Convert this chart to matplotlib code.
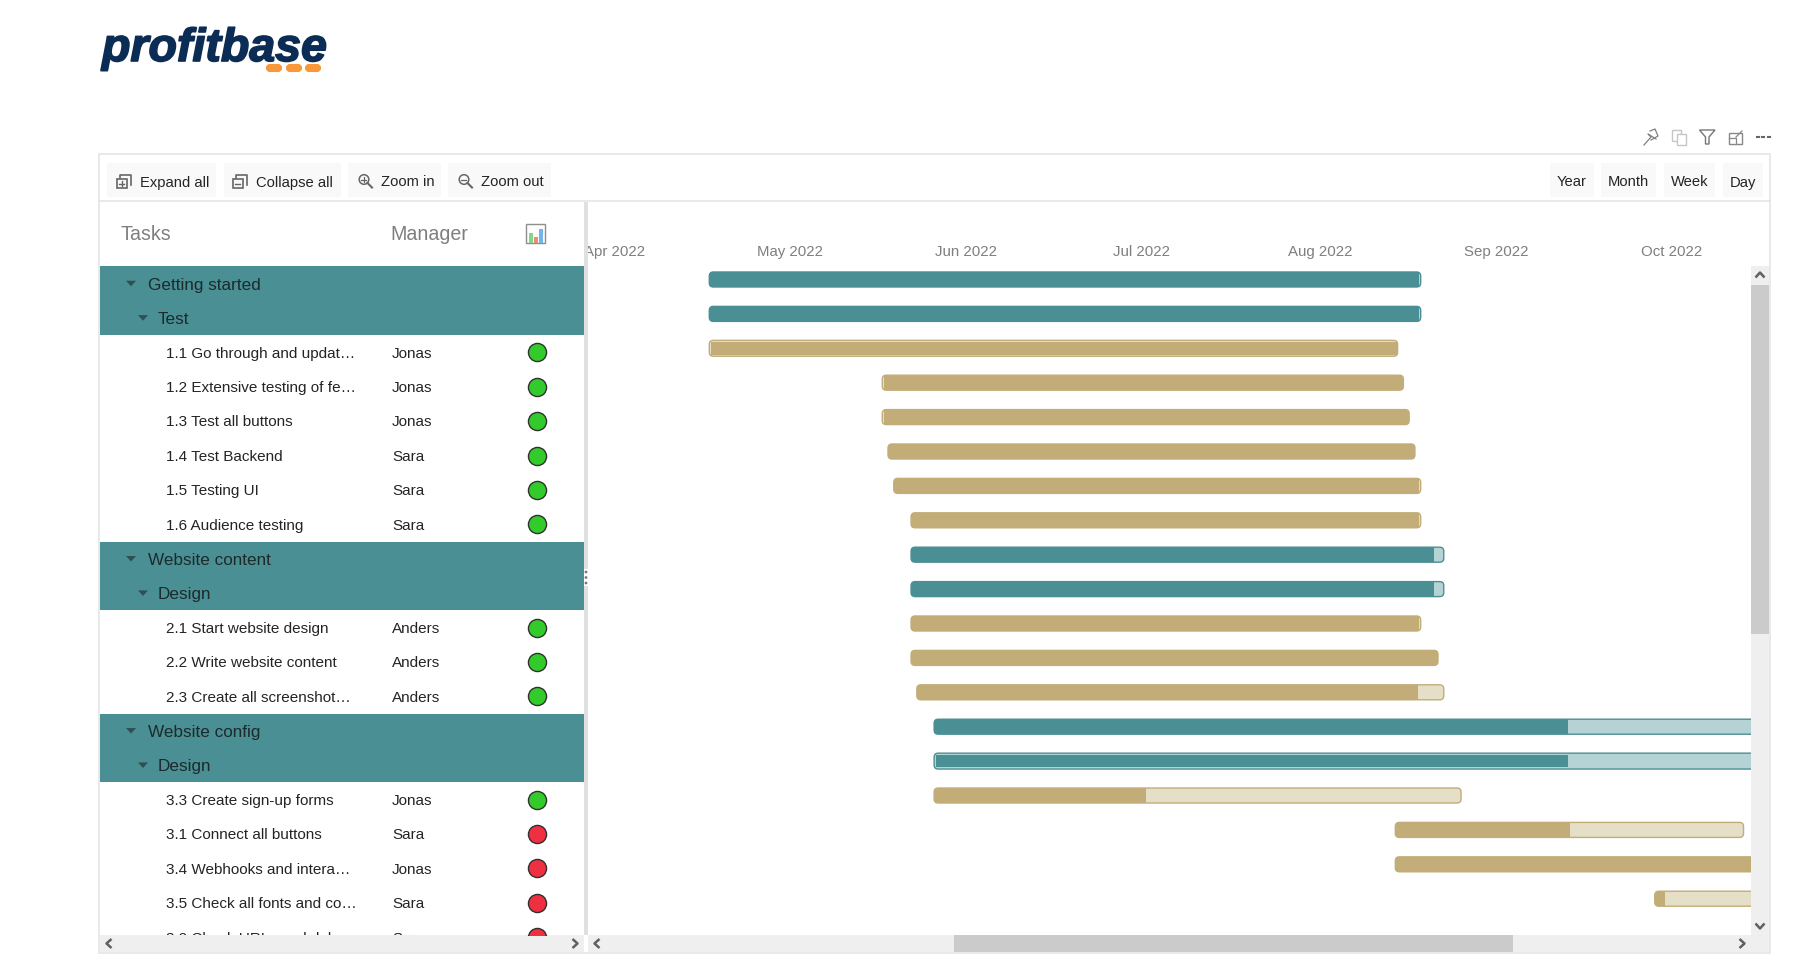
import datetime as dt

import matplotlib
matplotlib.use("Agg")
import matplotlib.dates as mdates
import matplotlib.patheffects as pe
import matplotlib.pyplot as plt
from matplotlib.patches import Circle, FancyBboxPatch, Polygon, Rectangle

plt.rcParams["font.family"] = ["Liberation Sans", "DejaVu Sans"]

# DATA
month_ticks = ["2022-03-31T12:00", "2022-05-01", "2022-05-31T12:00", "2022-07-01", "2022-08-01", "2022-08-31T12:00",
               "2022-10-01"]
month_labels = ["Apr 2022", "May 2022", "Jun 2022", "Jul 2022", "Aug 2022", "Sep 2022", "Oct 2022"]

bar_starts = ["2022-04-17", "2022-04-17", "2022-04-17", "2022-05-17", "2022-05-17", "2022-05-18", "2022-05-19",
              "2022-05-22", "2022-05-22", "2022-05-22", "2022-05-22", "2022-05-22", "2022-05-23", "2022-05-26",
              "2022-05-26", "2022-05-26", "2022-08-14", "2022-08-14", "2022-09-28"]
bar_ends = ["2022-08-18", "2022-08-18", "2022-08-14", "2022-08-15", "2022-08-16", "2022-08-17", "2022-08-18",
            "2022-08-18", "2022-08-22", "2022-08-22", "2022-08-18", "2022-08-21", "2022-08-22", "2022-11-10",
            "2022-11-10", "2022-08-25", "2022-10-13", "2022-11-05", "2022-11-15"]
# days completed, None when the whole task is done
done_days = [123.05, 123.05, None, None, None, None, 91.05, 88.05, 90.7, 90.7, 88.05, None, 86.9, 109.9, 109.9, 36.7,
             30.3, None, 1.8]
is_summary = [True, True, False, False, False, False, False, False, True, True, False, False, False, True, True,
              False, False, False, False]
selected_rows = [2, 14]
left_notch_rows = [3, 4]

table_rows = ["Getting started", "Test", "1.1 Go through and updat\u2026", "1.2 Extensive testing of fe\u2026",
              "1.3 Test all buttons", "1.4 Test Backend", "1.5 Testing UI", "1.6 Audience testing",
              "Website content", "Design", "2.1 Start website design", "2.2 Write website content",
              "2.3 Create all screenshot\u2026", "Website config", "Design", "3.3 Create sign-up forms",
              "3.1 Connect all buttons", "3.4 Webhooks and intera\u2026", "3.5 Check all fonts and co\u2026",
              "3.2 Check URLs and deb\u2026"]
row_levels = [0, 1, 2, 2, 2, 2, 2, 2, 0, 1, 2, 2, 2, 0, 1, 2, 2, 2, 2, 2]
managers = ["", "", "Jonas", "Jonas", "Jonas", "Sara", "Sara", "Sara", "", "", "Anders", "Anders", "Anders",
            "", "", "Jonas", "Sara", "Jonas", "Sara", "Sara"]
status = ["", "", "g", "g", "g", "g", "g", "g", "", "", "g", "g", "g", "", "", "g", "r", "r", "r", "r"]

left_buttons = ["Expand all", "Collapse all", "Zoom in", "Zoom out"]
right_buttons = ["Year", "Month", "Week", "Day"]

TEAL = "#4a8f94"
TEAL_LIGHT = "#b5d3d5"
GOLD = "#c2ad78"
GOLD_LIGHT = "#e6dfc8"
LINE = "#e3e3e3"
SCROLL = "#efefef"
THUMB = "#cbcbcb"
TEXT = "#252423"
W, H = 1807, 962

fig = plt.figure(figsize=(W / 100, H / 100), dpi=100, facecolor="white")


def px_axes(x0, y0, x1, y1, zorder):
    return fig.add_axes([x0 / W, 1 - y1 / H, (x1 - x0) / W, (y1 - y0) / H], zorder=zorder)


def num(day):
    return mdates.date2num(dt.datetime.fromisoformat(day))


# gantt chart
ax = px_axes(588, 267, 1751, 936, 1)
px_day = 5.765
px_row = 34.4
may1 = num("2022-05-01")
ax.set_xlim(may1 + (588 - 790) / px_day, may1 + (1751 - 790) / px_day)
ax.set_ylim(19.055, -0.392)
for s in ax.spines.values():
    s.set_visible(False)
ax.yaxis.set_visible(False)
ax.xaxis.tick_top()
ax.set_xticks([num(m) for m in month_ticks])
ax.set_xticklabels(month_labels, fontsize=10.8, color="#7f7f7f")
ax.tick_params(axis="x", length=0, pad=5.5)

bar_h = 15 / px_row
for row in range(len(bar_starts)):
    start = num(bar_starts[row])
    width = num(bar_ends[row]) + 0.4 - start
    dark = TEAL if is_summary[row] else GOLD
    light = TEAL_LIGHT if is_summary[row] else GOLD_LIGHT
    done = done_days[row] if done_days[row] is not None else width
    outer_h = bar_h * 1.06 if row in selected_rows else bar_h
    outer = FancyBboxPatch((start, row - outer_h / 2), width, outer_h,
                           boxstyle="round,pad=0,rounding_size=0.7", mutation_aspect=px_day / px_row,
                           fc=light, ec=dark, lw=1.0, zorder=2)
    ax.add_patch(outer)
    fill_h = bar_h * 0.84 if row in selected_rows else bar_h
    lead = 0.3 if row in left_notch_rows or row in selected_rows else 0
    bars = ax.barh(row, done - lead, left=start + lead, height=fill_h, color=dark, lw=0, zorder=3)
    for b in bars:
        b.set_clip_path(outer)

# page chrome, pixel coordinates
ui = fig.add_axes([0, 0, 1, 1], zorder=2)
ui.set_xlim(0, W)
ui.set_ylim(H - 1, -1)
ui.axis("off")
ui.patch.set_alpha(0)


def rect(x0, y0, x1, y1, color, z=1):
    ui.add_patch(Rectangle((x0, y0), x1 - x0, y1 - y0, fc=color, ec="none", zorder=z))


def chevron(x, y, direction):
    pts = {"l": [(x + 2.5, y - 4.5), (x - 2.5, y), (x + 2.5, y + 4.5)],
           "r": [(x - 2.5, y - 4.5), (x + 2.5, y), (x - 2.5, y + 4.5)],
           "u": [(x - 4.5, y + 2.5), (x, y - 2.5), (x + 4.5, y + 2.5)],
           "d": [(x - 4.5, y - 2.5), (x, y + 2.5), (x + 4.5, y - 2.5)]}
    xs, ys = zip(*pts[direction])
    ui.plot(xs, ys, color="#606060", lw=1.8, zorder=6, solid_capstyle="butt")


# logo
ui.text(102, 61, "profitbase", fontsize=33.5, fontweight="bold", fontstyle="italic", color="#0b2c54",
        ha="left", va="baseline", path_effects=[pe.withStroke(linewidth=1.2, foreground="#0b2c54")])
for x0 in [266, 286, 305]:
    ui.add_patch(FancyBboxPatch((x0 + 1, 65), 14, 6, boxstyle="round,pad=0,rounding_size=3", fc="#f7983a", ec="#f7983a",
                                lw=1.5))

# frame and toolbar
ui.add_patch(Rectangle((99, 153.5), 1671, 799, fc="none", ec=LINE, lw=1.1, zorder=7))
ui.plot([99, 1770], [200.5, 200.5], color=LINE, lw=1.1, zorder=7)
rect(100, 202, 584, 266, "white")
rect(584, 202, 588, 935, "#e0e0e0", z=5)

btn_boxes = [(107, 216), (224, 341), (348, 441), (448, 551)]
btn_text_x = [140, 256, 381, 481]
for (x0, x1), tx, label in zip(btn_boxes, btn_text_x, left_buttons):
    rect(x0, 163, x1, 197, "#f9f9f9")
    ui.text(tx, 181.5, label, fontsize=10.6, color=TEXT, ha="left", va="center")
right_boxes = [(1550, 1594), (1601, 1656), (1664, 1715), (1723, 1763)]
for (x0, x1), label in zip(right_boxes, right_buttons):
    rect(x0, 163, x1, 197, "#f9f9f9")
    ui.text((x0 + x1) / 2, 181.5, label, fontsize=10.6, color=TEXT, ha="center", va="center")

# expand / collapse / zoom icons
for x0, mark in [(117, "+"), (233, "-")]:
    ui.add_patch(Rectangle((x0, 179), 10, 9, fc="none", ec="#666666", lw=1.2, zorder=3))
    ui.plot([x0 + 3, x0 + 3, x0 + 14, x0 + 14], [178, 175, 175, 185], color="#666666", lw=1.2, zorder=3)
    ui.plot([x0 + 2.5, x0 + 7.5], [183.5, 183.5], color="#666666", lw=1, zorder=3)
    if mark == "+":
        ui.plot([x0 + 5, x0 + 5], [181, 186], color="#666666", lw=1, zorder=3)
for cx, mark in [(364, "+"), (464, "-")]:
    ui.add_patch(Circle((cx, 179.5), 4.8, fc="none", ec="#666666", lw=1.1, zorder=3))
    ui.plot([cx + 3.5, cx + 8], [183, 187.5], color="#666666", lw=1.5, zorder=3)
    ui.plot([cx - 2.5, cx + 2.5], [179.5, 179.5], color="#666666", lw=0.9, zorder=3)
    if mark == "+":
        ui.plot([cx, cx], [177, 182], color="#666666", lw=0.9, zorder=3)

# visual header icons
ui.plot([1644, 1651, 1648, 1656], [145, 137, 134, 139], color="#808080", lw=0.9)
ui.plot([1650, 1655, 1658, 1651], [131, 129, 136, 140], color="#808080", lw=0.9)
ui.add_patch(Rectangle((1672.5, 129.5), 9, 11, fc="white", ec="#c6c6c6", lw=1))
ui.add_patch(Rectangle((1677, 133.5), 9, 11, fc="white", ec="#c6c6c6", lw=1))
ui.add_patch(Polygon([(1699.5, 130), (1715, 130), (1709, 137), (1709, 144), (1705.5, 144), (1705.5, 137)], fc="none",
                     ec="#777777", lw=1))
ui.add_patch(Rectangle((1729, 132.5), 13, 11, fc="none", ec="#888888", lw=1))
ui.plot([1736, 1742], [137, 131], color="#888888", lw=0.9)
ui.plot([1729, 1736, 1736], [138, 138, 143], color="#888888", lw=0.9)
for x in [1758, 1763.5, 1769]:
    ui.plot([x - 1, x + 1], [136.5, 136.5], color="#666666", lw=1.5)

# table header
ui.text(121, 234, "Tasks", fontsize=14.1, color="#7f7f7f", ha="left", va="center", zorder=4)
ui.text(390, 234, "Manager", fontsize=14.1, color="#7f7f7f", ha="left", va="center", zorder=4)
ui.add_patch(Rectangle((526.5, 224), 19, 19, fc="white", ec="#8e8e8e", lw=1, zorder=4))
for x0, h, col in [(529, 10, "#7ed98a"), (534, 6, "#f08a78"), (539, 14, "#74b4e8")]:
    rect(x0, 242.5 - h, x0 + 4, 242.5, col, z=5)

# scrollbars
rect(1751, 266, 1769, 935, SCROLL, z=3)
rect(1751, 285, 1769, 634, THUMB, z=4)
rect(100, 935, 584, 952, SCROLL, z=3)
rect(588, 935, 1769, 952, SCROLL, z=3)
rect(954, 935, 1513, 952, THUMB, z=4)
chevron(109, 943.5, "l")
chevron(575, 943.5, "r")
chevron(597, 943.5, "l")
chevron(1742, 943.5, "r")
chevron(1760, 275, "u")
chevron(1760, 926, "d")

# task table
table = px_axes(100, 266.5, 584, 935.5, 3)
table.set_xlim(100, 584)
table.set_ylim(18.92, -0.523)
table.axis("off")
table.patch.set_visible(True)
table.patch.set_facecolor("white")
text_x = [148, 158, 166]
arrow_x = [131, 143]
for row, label in enumerate(table_rows):
    level = row_levels[row]
    if level == 0:
        table.axhspan(row - 0.5, row + 1.5, color=TEAL, lw=0, zorder=1)
    if level < 2:
        ax_x = arrow_x[level]
        table.add_patch(Polygon([(ax_x - 5, row - 0.08), (ax_x + 5, row - 0.08), (ax_x, row + 0.08)], fc="#2f4f52",
                                ec="none", zorder=2))
        table.text(text_x[level], row + 0.02, label, fontsize=12.3, color="#1c2a2c", ha="left", va="center", zorder=3)
    else:
        table.text(text_x[level], row + 0.01, label, fontsize=11, color=TEXT, ha="left", va="center", clip_on=True)
        table.text(392, row + 0.01, managers[row], fontsize=11, color=TEXT, ha="left", va="center", clip_on=True)
        col = "#33cb2c" if status[row] == "g" else "#ee3040"
        table.scatter([536.5], [row], s=170, color=col, edgecolors="#303030", linewidths=1, zorder=3)

# splitter grip
ui2 = fig.add_axes([0, 0, 1, 1], zorder=4)
ui2.set_xlim(0, W)
ui2.set_ylim(H - 1, -1)
ui2.axis("off")
ui2.patch.set_alpha(0)
ui2.add_patch(Rectangle((584, 569), 4, 17, fc="white", ec="none"))
for y in [572, 577.5, 583]:
    ui2.add_patch(Circle((586, y), 1.4, fc="#777777", ec="none"))

fig.savefig("out.png", dpi=100)
